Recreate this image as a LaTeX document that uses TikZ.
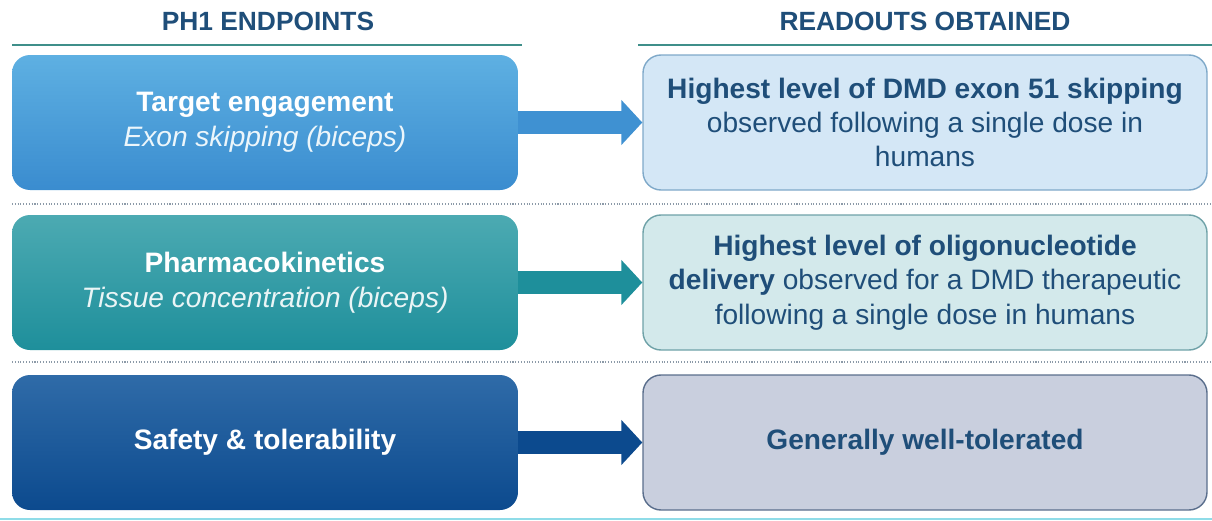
\documentclass[tikz,border=0pt]{standalone}
\usepackage{fontspec}
\setmainfont{Liberation Sans}
\usetikzlibrary{positioning}
\usetikzlibrary{arrows.meta}
\definecolor{hdrtext}{HTML}{1F4E79}
\definecolor{hdrline}{HTML}{3F8F8A}
\definecolor{outtext}{HTML}{1F4E79}
\definecolor{blueA}{HTML}{5EB0E2}
\definecolor{blueB}{HTML}{3A8CCF}
\definecolor{tealA}{HTML}{4CAAB2}
\definecolor{tealB}{HTML}{1E8F9B}
\definecolor{navyA}{HTML}{2F6BA8}
\definecolor{navyB}{HTML}{0C4A8E}
\definecolor{outA}{HTML}{D4E7F6}
\definecolor{outAline}{HTML}{7FA9C9}
\definecolor{outB}{HTML}{D3E9EB}
\definecolor{outBline}{HTML}{6FA2A8}
\definecolor{outC}{HTML}{C9CFDE}
\definecolor{outCline}{HTML}{5A6E8C}
\definecolor{sepgray}{HTML}{8C9AA8}
\definecolor{footcyan}{HTML}{8FDCE8}
\tikzset{
    endpt/.style = {rectangle, rounded corners=0.36cm, minimum width=10.12cm, minimum height=2.7cm, align=center, text=white, font=\fontsize{16}{20}\selectfont},
    readout/.style = {rectangle, rounded corners=0.36cm, minimum width=11.28cm, minimum height=2.7cm, align=center, text=outtext, line width=0.8pt, font=\fontsize{16}{19.6}\selectfont},
    header/.style = {text=hdrtext, font=\fontsize{15}{18}\selectfont\bfseries},
    hline/.style = {hdrline, line width=1.6pt},
    sepline/.style = {sepgray, densely dotted, line width=0.6pt},
    flow/.style = {line width=0.46cm, -{Triangle[length=0.42cm,width=0.88cm]}}
}
\begin{document}
\begin{tikzpicture}
%
\path[use as bounding box] (0,0) rectangle (24.24,-10.42);
%
\node[header] at (5.36,-0.42) (h1) {PH1 ENDPOINTS};
\node[header] at (18.50,-0.42) (h2) {READOUTS OBTAINED};
\draw[hline] (0.24,-0.90) -- (10.44,-0.90);
\draw[hline] (12.76,-0.90) -- (24.24,-0.90);
%
\node[endpt, top color=blueA, bottom color=blueB] at (5.30,-2.45) (e1) {\textbf{Target engagement}\\\textcolor{white!88!blueA}{\itshape Exon skipping (biceps)}};
\node[endpt, top color=tealA, bottom color=tealB] at (5.30,-5.65) (e2) {\textbf{Pharmacokinetics}\\\textcolor{white!88!tealA}{\itshape Tissue concentration (biceps)}};
\node[endpt, top color=navyA, bottom color=navyB] at (5.30,-8.85) (e3) {\textbf{Safety \& tolerability}};
%
\node[readout, fill=outA, draw=outAline] at (18.50,-2.45) (r1) {\textbf{Highest level of DMD exon 51 skipping}\\observed following a single dose in\\humans};
\node[readout, fill=outB, draw=outBline] at (18.50,-5.65) (r2) {\textbf{Highest level of oligonucleotide}\\\textbf{delivery} observed for a DMD therapeutic\\following a single dose in humans};
\node[readout, fill=outC, draw=outCline] at (18.50,-8.85) (r3) {\textbf{Generally well-tolerated}};
%
\draw[flow, blueB!85!blueA] (e1) -- (r1);
\draw[flow, tealB] (e2) -- (r2);
\draw[flow, navyB] (e3) -- (r3);
%
\draw[sepline] (0.24,-4.08) -- (24.24,-4.08);
\draw[sepline] (0.24,-7.24) -- (24.24,-7.24);
\draw[footcyan, line width=1.6pt] (0,-10.38) -- (24.24,-10.38);

\end{tikzpicture}
\end{document}
